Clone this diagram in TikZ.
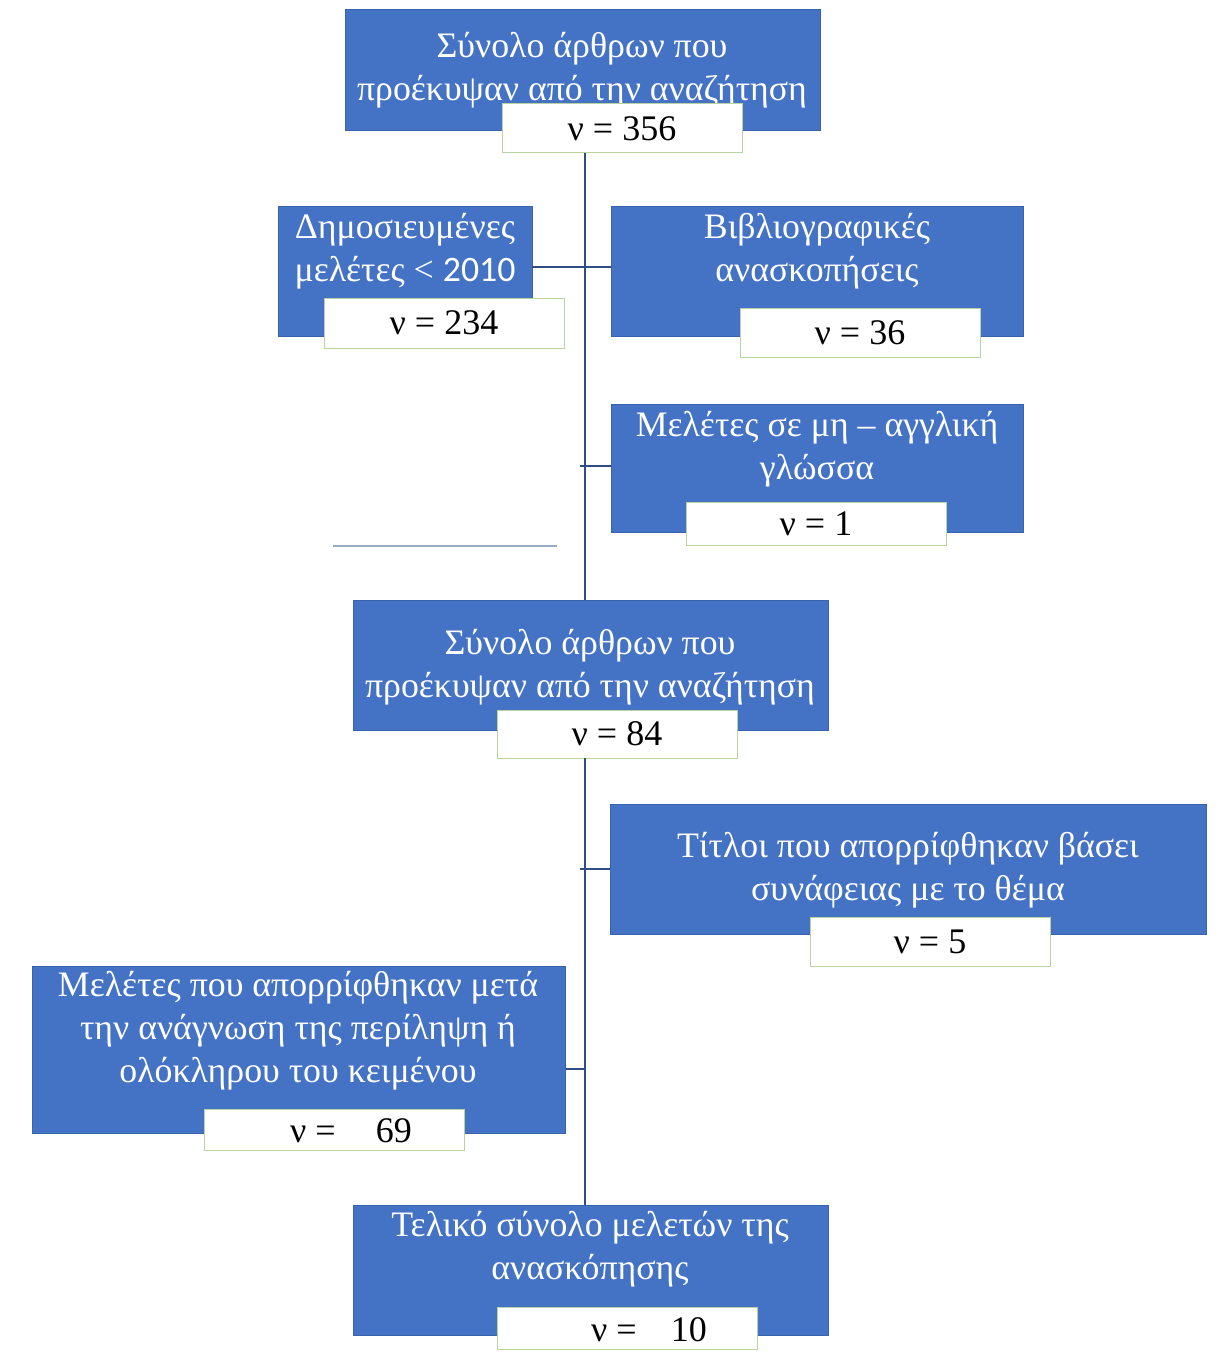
\documentclass[tikz,border=0pt]{standalone}
\usepackage{fontspec}
\setmainfont{Liberation Serif}
\newfontfamily\carl{Carlito}
\definecolor{boxblue}{HTML}{4472C4}
\definecolor{boxedge}{HTML}{3A63AE}
\definecolor{numedge}{HTML}{B9D3A0}
\definecolor{trunk}{HTML}{2F4D82}
\definecolor{stray}{HTML}{9AAAC4}
\begin{document}
\begin{tikzpicture}[x=1pt,y=-1pt,
  bluebox/.style={fill=boxblue, draw=boxedge, line width=1pt, inner sep=0pt},
  numbox/.style={fill=white, draw=numedge, line width=1pt, inner sep=0pt, minimum height=48,
     font=\fontsize{36}{40}\selectfont, text=black},
  btext/.style={align=center, text=white, font=\fontsize{35.8}{43}\selectfont, inner sep=0pt},
  ntext/.style={text=black, font=\fontsize{36}{40}\selectfont, inner sep=0pt},
  conn/.style={draw=trunk, line width=2.5pt},
  strayline/.style={draw=stray, line width=1.5pt}]
\useasboundingbox[fill=white] (0,0) rectangle (1221,1359);

% box 1
\node[bluebox, minimum width=475, minimum height=121] (b1) at (582.5,70.5) {};
\node[btext] (t1) at (582,70) {Σύνολο άρθρων που\\προέκυψαν από την αναζήτηση};
\node[numbox, minimum width=240, minimum height=49] (n1) at (622,128.5) {ν = 356};

% box 2
\node[bluebox, minimum width=254, minimum height=130] (b2) at (405,271) {};
\node[btext] (t2) at (405,251.5) {Δημοσιευμένες\\μελέτες < {\carl 2010}};
\node[numbox, minimum width=240, minimum height=50] (n2) at (444,323) {ν = 234};

% box 3
\node[bluebox, minimum width=412, minimum height=130] (b3) at (817,271) {};
\node[btext] (t3) at (817,251.5) {Βιβλιογραφικές\\ανασκοπήσεις};
\node[numbox, minimum width=240, minimum height=49] (n3) at (860,332.5) {ν = 36};

% box 4
\node[bluebox, minimum width=412, minimum height=128] (b4) at (817,468) {};
\node[btext] (t4) at (817,449) {Μελέτες σε μη – αγγλική\\γλώσσα};
\node[numbox, minimum width=260, minimum height=43] (n4) at (816,523.5) {ν = 1};

% box 5
\node[bluebox, minimum width=475, minimum height=130] (b5) at (590.5,665) {};
\node[btext] (t5) at (590,667.5) {Σύνολο άρθρων που\\προέκυψαν από την αναζήτηση};
\node[numbox, minimum width=240, minimum height=48] (n5) at (617,734) {ν = 84};

% box 6
\node[bluebox, minimum width=596, minimum height=130] (b6) at (908,869) {};
\node[btext] (t6) at (908,870) {Τίτλοι που απορρίφθηκαν βάσει\\συνάφειας με το θέμα};
\node[numbox, minimum width=240, minimum height=49] (n6) at (930,941.5) {ν = 5};

% box 7
\node[bluebox, minimum width=533, minimum height=167] (b7) at (298.5,1049.5) {};
\node[btext] (t7) at (298,1031) {Μελέτες που απορρίφθηκαν μετά\\την ανάγνωση της περίληψη ή\\ολόκληρου του κειμένου};
\node[numbox, minimum width=260, minimum height=41] (n7) at (334,1129.5) {};
\node[ntext] (v7) at (351,1131) {ν =\hspace{40pt}69};

% box 8
\node[bluebox, minimum width=475, minimum height=130] (b8) at (590.5,1270) {};
\node[btext] (t8) at (590,1249.5) {Τελικό σύνολο μελετών της\\ανασκόπησης};
\node[numbox, minimum width=260, minimum height=42] (n8) at (627,1328) {};
\node[ntext] (v8) at (649,1330) {ν =\hspace{34pt}10};

% connectors
\coordinate (top) at (585,153);
\coordinate (mid) at (585,758);
\draw[conn] (top) -- (top |- b5.north);
\draw[conn] (mid) -- (mid |- b8.north);
\coordinate (j2) at (532,267);
\draw[conn] (j2) -- (j2 -| b3.west);
\coordinate (j4) at (580,466);
\draw[conn] (j4) -- (j4 -| b4.west);
\coordinate (j6) at (580,869);
\draw[conn] (j6) -- (j6 -| b6.west);
\coordinate (j7) at (586,1069);
\draw[conn] (j7) -- (j7 -| b7.east);

% stray line
\coordinate (s1) at (333,546);
\coordinate (s2) at (557,546);
\draw[strayline] (s1) -- (s2);
\end{tikzpicture}
\end{document}
